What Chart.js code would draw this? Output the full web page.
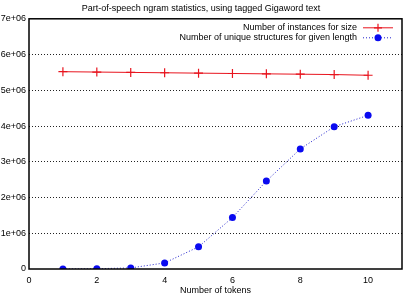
<!DOCTYPE html>
<html>
<head>
<meta charset="utf-8">
<script src="https://cdn.jsdelivr.net/npm/chart.js@4"></script>
<style>
  html, body { margin: 0; padding: 0; background: #fff; }
  #wrap { width: 404px; height: 296px; }
</style>
</head>
<body>
<div id="wrap"><canvas id="ngramChart" width="404" height="296"></canvas></div>
<script>
var tokens = [1, 2, 3, 4, 5, 6, 7, 8, 9, 10];
var instances = [5520000, 5510000, 5500000, 5490000, 5480000, 5470000, 5460000, 5450000, 5440000, 5420000];
var uniqueStructures = [2000, 8000, 30000, 170000, 620000, 1440000, 2460000, 3360000, 3980000, 4300000];
var yTicks = ["0", "1e+06", "2e+06", "3e+06", "4e+06", "5e+06", "6e+06", "7e+06"];

var FONT = "'Liberation Sans', Arial, sans-serif";

// frame + legend drawn inside the plot, gnuplot style
var framePlugin = {
  id: "frame",
  afterDraw: function (chart) {
    var c = chart.ctx, a = chart.chartArea;
    c.save();
    c.strokeStyle = "#000";
    c.lineWidth = 1.5;
    c.strokeRect(a.left, a.top, a.right - a.left, a.bottom - a.top);

    c.font = "9px " + FONT;
    c.textAlign = "right";
    c.textBaseline = "middle";
    chart.data.datasets.forEach(function (ds, i) {
      var y = a.top + 9 + i * 10;
      c.fillStyle = "#000";
      c.fillText(ds.label, 357, y);
      c.strokeStyle = ds.borderColor;
      c.lineWidth = 1;
      c.setLineDash(ds.borderDash || []);
      c.beginPath();
      c.moveTo(363, y);
      c.lineTo(393, y);
      c.stroke();
      c.setLineDash([]);
      if (ds.pointStyle === "cross") {
        c.lineWidth = 1.2;
        c.beginPath();
        c.moveTo(374, y); c.lineTo(382, y);
        c.moveTo(378, y - 4); c.lineTo(378, y + 4);
        c.stroke();
      } else {
        c.fillStyle = ds.pointBackgroundColor;
        c.beginPath();
        c.arc(378, y, 3.5, 0, Math.PI * 2);
        c.fill();
      }
    });
    c.restore();
  }
};

var ctx = document.getElementById("ngramChart").getContext("2d");

var ngramChart = new Chart(ctx, {
  type: "line",
  data: {
    datasets: [
      {
        label: "Number of instances for size",
        data: tokens.map(function (t, i) { return { x: t, y: instances[i] }; }),
        borderColor: "#e8141e",
        borderWidth: 1,
        pointStyle: "cross",
        pointRadius: 4.5,
        pointBorderWidth: 1.2,
        pointBorderColor: "#e8141e",
        pointBackgroundColor: "#e8141e",
        fill: false,
        tension: 0
      },
      {
        label: "Number of unique structures for given length",
        data: tokens.map(function (t, i) { return { x: t, y: uniqueStructures[i] }; }),
        borderColor: "#2222cc",
        borderWidth: 1,
        borderDash: [1, 2],
        pointStyle: "circle",
        pointRadius: 3.5,
        pointBorderWidth: 0,
        pointBackgroundColor: "#0a0af0",
        fill: false,
        tension: 0
      }
    ]
  },
  options: {
    responsive: false,
    animation: false,
    layout: { autoPadding: false, padding: { top: 0, right: 2, bottom: 0, left: 0 } },
    plugins: {
      legend: { display: false },
      tooltip: { enabled: false },
      title: {
        display: true,
        text: "Part-of-speech ngram statistics, using tagged Gigaword text",
        color: "#000",
        font: { family: FONT, size: 9, weight: "normal" },
        padding: { top: 3, bottom: 5 }
      }
    },
    scales: {
      x: {
        type: "linear",
        min: 0,
        max: 11,
        afterFit: function (s) { s.height = 27; s.paddingRight = 0; },
        border: { display: false },
        grid: { display: false, drawTicks: false },
        ticks: {
          stepSize: 2,
          color: "#000",
          padding: 6,
          maxRotation: 0,
          font: { family: FONT, size: 9 },
          callback: function (v) { return v <= 10 ? v : ""; }
        },
        title: {
          display: true,
          text: "Number of tokens",
          color: "#000",
          font: { family: FONT, size: 9 },
          padding: { top: 0, bottom: 0 }
        }
      },
      y: {
        min: 0,
        max: 7000000,
        border: { display: false, dash: [1, 2] },
        afterFit: function (s) { s.width = 29; },
        grid: {
          color: function (c) { return (c.index === 0 || c.index === 7) ? "rgba(0,0,0,0)" : "#222"; },
          lineWidth: 1,
          drawTicks: false
        },
        ticks: {
          stepSize: 1000000,
          color: "#000",
          padding: 3,
          font: { family: FONT, size: 9 },
          callback: function (v, i) { return yTicks[i]; }
        }
      }
    }
  },
  plugins: [framePlugin]
});
</script>
</body>
</html>
